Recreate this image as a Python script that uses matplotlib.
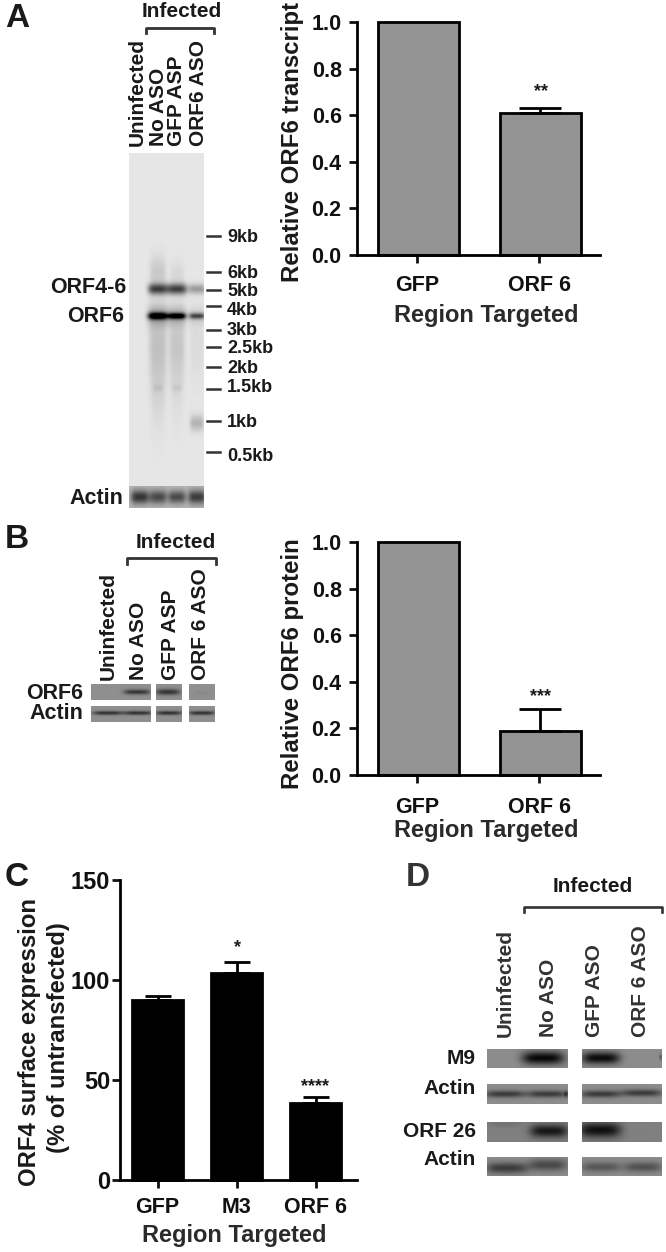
import numpy as np
from matplotlib import pyplot as plt

W, H = 666, 1252
plt.rcParams['font.family'] = ['Liberation Sans', 'DejaVu Sans']
plt.rcParams['font.weight'] = 'bold'

# bar chart values
a_labels = ['GFP', 'ORF 6']
a_values = [1.0, 0.609]
a_errors = [0, 0.021]
b_labels = ['GFP', 'ORF 6']
b_values = [1.0, 0.187]
b_errors = [0, 0.096]
c_labels = ['GFP', 'M3', 'ORF 6']
c_values = [90, 103.5, 38.5]
c_errors = [2, 5.5, 3]

# size markers of the northern blot: label, tick y, label y
kb_labels = ['9kb', '6kb', '5kb', '4kb', '3kb', '2.5kb', '2kb', '1.5kb', '1kb', '0.5kb']
kb_ticks = [236, 272, 290, 306, 330, 347, 367, 389, 421, 452]
kb_text = [236, 272, 290, 309, 329, 347, 367, 386, 421, 455]

# blot bands: centre x, centre y, half width, half height, darkness
a_main_bands = [
    (158, 289, 10, 5.5, 0.68), (177, 289, 10, 5.5, 0.70), (197, 289, 9, 5, 0.32),
    (158, 316, 10, 3.5, 1.0), (177, 316, 9, 3, 0.95), (197, 316, 8, 3, 0.58),
    (158, 316, 11, 10, 0.24), (177, 316, 10, 9, 0.22), (197, 316, 9, 8, 0.12),
    (158, 345, 9, 42, 0.16), (177, 345, 8, 38, 0.14), (197, 345, 7, 34, 0.05),
    (158, 272, 8, 16, 0.12), (177, 274, 7, 12, 0.06),
    (158, 388, 5, 4, 0.07), (177, 388, 5, 4, 0.07), (158, 400, 7, 34, 0.05), (177, 400, 6, 30, 0.03),
    (197, 423, 7, 8, 0.22),
]
a_actin_bands = [(140, 497, 9, 7, 0.72), (158, 497, 9, 7, 0.60),
                 (177, 497, 9, 6.5, 0.60), (197, 497, 9, 7, 0.68)]
b_orf6_bands = [(137, 692, 13, 2.5, 0.62), (168, 692, 12, 3, 0.62), (203, 693, 8, 2, 0.05)]
b_actin_bands = [(108, 713, 15, 2, 0.65), (138, 713, 14, 2, 0.65),
                 (169, 713, 13, 2, 0.65), (202, 713, 13, 2, 0.65)]
d_m9_bands = [(543, 1058, 21, 6.5, 0.95), (601, 1058, 19, 6, 0.92), (661, 1057, 2, 3, 0.3)]
d_act1_bands = [(505, 1094, 20, 3.5, 0.58), (547, 1094, 20, 3.5, 0.58),
                (601, 1094, 20, 3.5, 0.58), (642, 1093, 20, 3.5, 0.58), (566, 1094, 2, 3, 0.4)]
d_orf26_bands = [(549, 1131, 19, 6.5, 0.82), (600, 1130, 21, 7.5, 0.88), (505, 1124, 17, 3, 0.1)]
d_act2_bands = [(507, 1168, 21, 5.5, 0.58), (548, 1165, 19, 6, 0.48),
                (601, 1167, 20, 5, 0.38), (643, 1167, 19, 5, 0.42)]


def make_axes(fig, x0, y0, x1, y1):
    # axes placed by pixel box, y0 is the top edge
    return fig.add_axes([x0 / W, 1 - y1 / H, (x1 - x0) / W, (y1 - y0) / H])


def draw_blot(ax, x0, y0, x1, y1, bands, bg):
    xs = np.arange(x0, x1) + 0.5
    ys = np.arange(y0, y1) + 0.5
    xx, yy = np.meshgrid(xs, ys)
    dark = np.zeros(xx.shape)
    for cx, cy, sx, sy, strength in bands:
        dark += strength * np.exp(-((xx - cx) / sx) ** 4 - ((yy - cy) / sy) ** 2)
    img = np.clip(bg * (1 - dark), 0, 1)
    ax.imshow(img, extent=(x0, x1, y1, y0), cmap='gray', vmin=0, vmax=1,
              aspect='auto', interpolation='bilinear', zorder=1)


def bar_panel(fig, box, labels, values, errors, ymax, step, color, width, xlim, capsize,
              fmt, ysize, xsize, ypad, xpad, tick_shift):
    ax = make_axes(fig, *box)
    pos = np.arange(len(labels))
    ax.bar(pos, values, width=width, color=color, edgecolor='black', linewidth=2, clip_on=False)
    for p, v, e in zip(pos, values, errors):
        if e > 0:
            ax.errorbar(p, v, yerr=[[0], [e]], color='black', elinewidth=2,
                        capsize=capsize, capthick=2, clip_on=False)
    ax.set_xlim(*xlim)
    ax.set_ylim(0, ymax)
    ax.set_xticks(pos + tick_shift)
    ax.set_xticklabels(labels)
    ax.set_yticks(np.arange(0, ymax + step / 2, step))
    ax.yaxis.set_major_formatter(fmt)
    ax.tick_params(axis='both', length=6, width=2, colors='#111111')
    ax.tick_params(axis='y', labelsize=ysize, pad=ypad)
    ax.tick_params(axis='x', labelsize=xsize, pad=xpad)
    for side in ['top', 'right']:
        ax.spines[side].set_visible(False)
    for side in ['left', 'bottom']:
        ax.spines[side].set_linewidth(2)
    ax.patch.set_alpha(0)
    return ax


fig = plt.figure(figsize=(W / 100, H / 100), dpi=100)

# overlay in pixel coordinates for the blots and free labels
ov = fig.add_axes([0, 0, 1, 1])
ov.axis('off')

# panel A blot
draw_blot(ov, 129, 153, 204, 486, a_main_bands, 0.90)
draw_blot(ov, 129, 486, 204, 508, a_actin_bands, 0.72)
# panel B blot
for x0, x1 in [(91, 151), (156, 182), (189, 215)]:
    b1 = [b for b in b_orf6_bands if x0 <= b[0] < x1]
    b2 = [b for b in b_actin_bands if x0 <= b[0] < x1]
    draw_blot(ov, x0, 684, x1, 700, b1, 0.56)
    draw_blot(ov, x0, 706, x1, 722, b2, 0.56)
# panel D blot
for x0, x1 in [(487, 568), (582, 662)]:
    rows = [(1049, 1068, d_m9_bands, 0.55), (1084, 1104, d_act1_bands, 0.55),
            (1122, 1142, d_orf26_bands, 0.50), (1157, 1176, d_act2_bands, 0.55)]
    for y0, y1, bands, bg in rows:
        picked = [b for b in bands if x0 <= b[0] < x1]
        draw_blot(ov, x0, y0, x1, y1, picked, bg)
ov.set_xlim(0, W)
ov.set_ylim(H, 0)

# brackets
for xs, y0, y1, lw in [((146, 214), 28, 33, 2), ((127, 216), 558, 564, 2), ((524, 662), 907, 912, 1.9)]:
    ov.plot([xs[0], xs[0], xs[1], xs[1]], [y1, y0, y0, y1], color='#333333', lw=lw)


def txt(x, y, s, size=15, ha='center', va='center', rot=0, color='#1a1a1a'):
    if rot == 0:
        y += 1.5
    ov.text(x, y, s, fontsize=size, ha=ha, va=va, rotation=rot, color=color, fontweight='bold')


# panel letters
txt(17, 17, 'A', 24)
txt(17, 538, 'B', 24)
txt(17, 876, 'C', 24)
txt(418, 876, 'D', 24, color='#333333')

# panel A labels
txt(182, 10, 'Infected')
for x, s in zip([137, 158, 177, 198], ['Uninfected', 'No ASO', 'GFP ASP', 'ORF6 ASO']):
    txt(x, 146, s, rot=90, va='bottom')
txt(126, 286, 'ORF4-6', 15.5, ha='right')
txt(124, 315, 'ORF6', 15.5, ha='right')
txt(123, 497, 'Actin', 15.5, ha='right')
for tick_y, text_y, s in zip(kb_ticks, kb_text, kb_labels):
    ov.plot([207, 220], [tick_y, tick_y], color='#333333', lw=1.8)
    txt(227, text_y, s, 13, ha='left')

# panel B labels
txt(176, 541, 'Infected')
for x, s in zip([108, 139, 170, 201], ['Uninfected', 'No ASO', 'GFP ASP', 'ORF 6 ASO']):
    txt(x, 680, s, rot=90, va='bottom')
txt(83, 692, 'ORF6', 15.5, ha='right')
txt(83, 712, 'Actin', 15.5, ha='right')

# panel D labels
txt(593, 885, 'Infected')
for x, s in zip([505, 549, 595, 641], ['Uninfected', 'No ASO', 'GFP ASO', 'ORF 6 ASO']):
    txt(x, 1037, s, rot=90, va='bottom', color='#333333')
txt(476, 1057, 'M9', 15, ha='right')
txt(476, 1087, 'Actin', 15, ha='right')
txt(476, 1130, 'ORF 26', 15, ha='right')
txt(476, 1158, 'Actin', 15, ha='right')

# bar charts
bar_panel(fig, (357, 22, 600, 255), a_labels, a_values, a_errors, 1.0, 0.2, '#939393',
          0.66, (-0.504, 1.488), 15.4, lambda v, p: f'{v:.1f}', 15.5, 15.5, 5, 8.5, -0.01)
bar_panel(fig, (357, 542, 600, 775), b_labels, b_values, b_errors, 1.0, 0.2, '#939393',
          0.66, (-0.504, 1.488), 15.4, lambda v, p: f'{v:.1f}', 15.5, 15.5, 5, 10, -0.01)
bar_panel(fig, (120, 880, 357, 1180), c_labels, c_values, c_errors, 150, 50, 'black',
          0.64, (-0.475, 2.525), 9.7, lambda v, p: f'{v:.0f}', 17, 15.5, 1, 6, 0.0)

# chart titles and stars
txt(293, 142, 'Relative ORF6 transcript', 17.3, rot=90)
txt(486, 314, 'Region Targeted', 17, color='#2a2a2a')
txt(541, 90, '**', 13)
txt(293, 664, 'Relative ORF6 protein', 17.3, rot=90)
txt(486, 829, 'Region Targeted', 17, color='#2a2a2a')
txt(541, 695, '***', 13)
txt(30, 1042, 'ORF4 surface expression', 17.2, rot=90)
txt(58, 1038, '(% of untransfected)', 17.2, rot=90)
txt(234, 1234, 'Region Targeted', 17, color='#2a2a2a')
txt(237, 946, '*', 13)
txt(315, 1085, '****', 13)

fig.savefig('out.png', dpi=100)
